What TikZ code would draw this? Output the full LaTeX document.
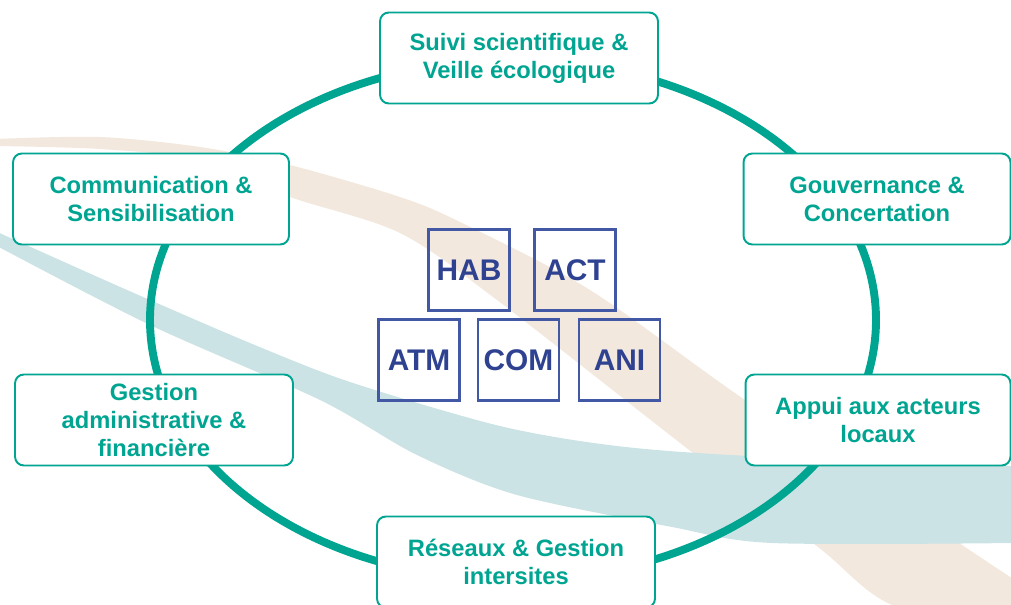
\documentclass[tikz,border=0pt]{standalone}
\usepackage{fontspec}
\setmainfont{Liberation Sans}
\usepackage{tikz}
\usetikzlibrary{positioning}
\definecolor{vert}{RGB}{0,165,146}
\definecolor{sable}{RGB}{242,232,221}
\definecolor{eau}{RGB}{204,227,229}
\definecolor{marine}{RGB}{46,66,145}
\definecolor{trait}{RGB}{66,88,165}

\begin{document}
\begin{tikzpicture}[x=0.02cm,y=-0.02cm,
    pole/.style={draw=vert,line width=1.1pt,fill=white,rounded corners=5pt,text=vert,
      font=\fontsize{13.5}{16}\selectfont\bfseries,align=center,minimum height=1.82cm,inner sep=0pt},
    code/.style={draw=trait,line width=1.4pt,text=marine,
      font=\fontsize{17}{20}\selectfont\bfseries,minimum size=1.62cm,inner sep=0pt}]
        \useasboundingbox (0,0) rectangle (1011,605);
        \fill[sable] plot[smooth] coordinates {(-5,139) (100,137) (200,147) (290,165) (400,197) (460,222) (590,290) (745,400) (965,547) (1030,590)}
          -- plot[smooth] coordinates {(1030,640) (892,605) (818,547) (693,453) (497,300) (400,233) (290,197) (200,160) (100,149) (-5,146)} -- cycle;
        \fill[eau] plot[smooth] coordinates {(-5,231) (100,278) (150,300) (250,343) (350,382) (500,426) (617,446) (750,456) (1015,466)}
          -- plot[smooth] coordinates {(1015,543) (772,543) (672,527) (517,495) (417,455) (320,400) (150,325) (-5,245)} -- cycle;
        \coordinate (centre) at (513,320);
        \draw[vert,line width=4.5pt] (centre) ellipse (363 and 260);
        \node[pole,minimum width=5.56cm] (suivi) at (519,58) {Suivi scientifique \&\\Veille écologique};
        \node[pole,minimum width=5.52cm] (comm) at (151,199) {Communication \&\\Sensibilisation};
        \node[pole,minimum width=5.34cm] (gouv) at (877,199) {Gouvernance \&\\Concertation};
        \node[pole,minimum width=5.56cm] (gest) at (154,420) {Gestion\\administrative \&\\financière};
        \node[pole,minimum width=5.3cm] (appui) at (878,420) {Appui aux acteurs\\locaux};
        \node[pole,minimum width=5.56cm] (reseaux) at (516,562) {Réseaux \& Gestion\\intersites};
        \node[code] (hab) at (469,270) {HAB};
        \node[code] (act) at (575,270) {ACT};
        \node[code] (atm) at (419,360) {ATM};
        \node[code] (com) at (518.5,360) {COM};
        \node[code] (ani) at (619.5,360) {ANI};
\end{tikzpicture}
\end{document}
